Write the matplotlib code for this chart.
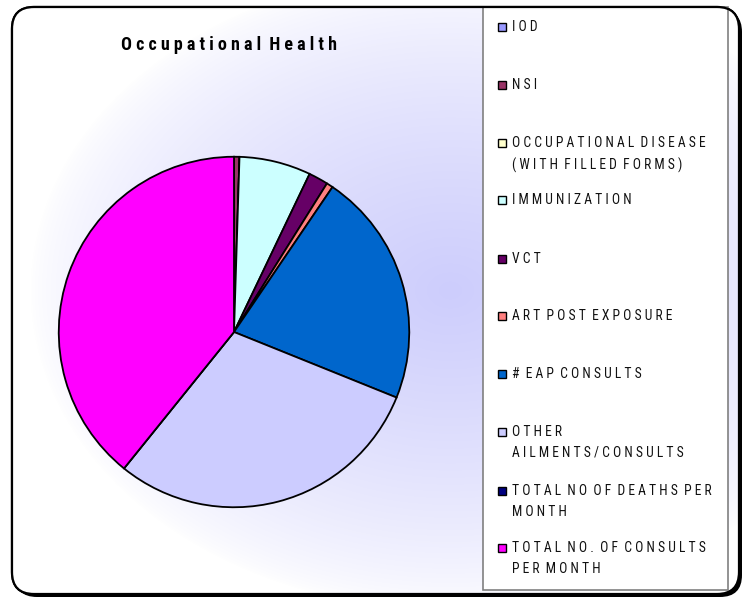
import numpy as np
import matplotlib
matplotlib.use("Agg")
import matplotlib.pyplot as plt
from matplotlib.patches import FancyBboxPatch, Rectangle

# data (share of consults)
labels = ['IOD', 'NSI', 'OCCUPATIONAL DISEASE\n(WITH FILLED FORMS)', 'IMMUNIZATION',
          'VCT', 'ART POST EXPOSURE', '# EAP CONSULTS', 'OTHER\nAILMENTS/CONSULTS',
          'TOTAL NO OF DEATHS PER\nMONTH', 'TOTAL NO. OF CONSULTS\nPER MONTH']
values = [0.0, 0.5, 0.0, 6.6, 1.8, 0.6, 21.6, 29.7, 0.0, 39.2]
colors = ['#9999FF', '#993366', '#FFFFCC', '#CCFFFF', '#660066',
          '#FF8080', '#0066CC', '#CCCCFF', '#000080', '#FF00FF']

FONT = ['Roboto Condensed', 'Liberation Sans', 'DejaVu Sans']


def spaced(s):
    # the original renders with wide letter spacing
    return '\n'.join('  '.join(' '.join(w) for w in line.split(' '))
                     for line in s.split('\n'))


W, H = 744, 598
fig = plt.figure(figsize=(W / 100, H / 100), dpi=100)
fig.patch.set_facecolor('white')

bg = fig.add_axes([0, 0, 1, 1])
bg.set_xlim(0, W)
bg.set_ylim(H, 0)
bg.axis('off')

# shadow of the rounded frame (bottom-right only)
shadow = FancyBboxPatch((15, 10), 727, 587, boxstyle='round,pad=0,rounding_size=22',
                        facecolor='black', edgecolor='none', zorder=1)
bg.add_patch(shadow)
frame = FancyBboxPatch((12, 7), 727, 587, boxstyle='round,pad=0,rounding_size=22',
                       facecolor='white', edgecolor='black', linewidth=1.6, zorder=2)
bg.add_patch(frame)

# soft lavender glow inside the frame
yy, xx = np.mgrid[0:H, 0:W]
d = np.sqrt(((xx - 450) / 420.0) ** 2 + ((yy - 290) / 320.0) ** 2)
t = np.clip(1 - d, 0, 1) ** 0.7
lav = np.array([205, 205, 252]) / 255.0
img = np.ones((H, W, 3)) * (1 - t[..., None]) + lav * t[..., None]
im = bg.imshow(img, extent=[0, W, H, 0], zorder=2.5, interpolation='bilinear')
im.set_clip_path(frame)
edge = FancyBboxPatch((12, 7), 727, 587, boxstyle='round,pad=0,rounding_size=22',
                      facecolor='none', edgecolor='black', linewidth=1.6, zorder=6)
bg.add_patch(edge)
bg.set_xlim(0, W)
bg.set_ylim(H, 0)

bg.text(229, 45, spaced('Occupational Health'), ha='center', va='center',
        fontsize=13, fontweight='bold', family=FONT, zorder=3)

# legend box
bg.add_patch(Rectangle((483, 7), 245, 583, facecolor='white', edgecolor='#808080',
                       linewidth=1.2, zorder=3))
ys = [27, 85, 143, 200, 259, 316, 374, 432, 491, 548]
for lab, col, y in zip(labels, colors, ys):
    bg.add_patch(Rectangle((498, y - 4), 8, 8, facecolor=col, edgecolor='black',
                           linewidth=1.0, zorder=4))
    bg.text(512, y - 7, spaced(lab), ha='left', va='top', fontsize=9.8,
            family=FONT, linespacing=1.6, color='#111111', zorder=4)

# pie
ax = fig.add_axes([57 / W, (H - 332 - 177) / H, 354 / W, 354 / H])
ax.pie(values, colors=colors, startangle=90, counterclock=False,
       wedgeprops=dict(edgecolor='black', linewidth=1.3))
ax.set_xlim(-1.01, 1.01)
ax.set_ylim(-1.01, 1.01)
ax.set_aspect('equal')
ax.axis('off')

fig.savefig('out.png', dpi=100)
